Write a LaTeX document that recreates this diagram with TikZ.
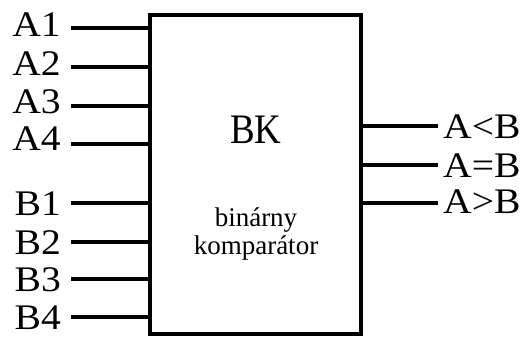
\documentclass[tikz,border=0pt]{standalone}
\usepackage{fontspec}
\setmainfont{Liberation Serif}
\newfontfamily\labfont{Liberation Serif}[FakeStretch=1.1]
\newfontfamily\bkfont{Liberation Serif}[FakeStretch=0.88]
\begin{document}
\begin{tikzpicture}[x=1pt,y=-1pt,
  wire/.style={line width=4pt},
  lab/.style={inner sep=0pt, font=\labfont\fontsize{36}{40}\selectfont},
  big/.style={inner sep=0pt, font=\bkfont\fontsize{42}{46}\selectfont},
  small/.style={inner sep=0pt, font=\fontsize{27}{30}\selectfont}]
\useasboundingbox (0,0) rectangle (528,338);
\node[draw, line width=4.5pt, minimum width=211pt, minimum height=319pt, inner sep=0pt] (box) at (255.5,174.5) {};
% inputs
\foreach \n/\ly/\by in {A1/28/36.5, A2/67/75, A3/106/113.5, A4/144/150.5, B1/203/215.5, B2/242/254, B3/279/291.5, B4/317/329.5}{
  \node[lab, anchor=base east] (l\n) at (61,\by) {\n};
  \coordinate (c\n) at (71,\ly);
  \draw[wire] (c\n) -- (c\n -| box.west);
}
% outputs
\coordinate (oLT) at (438,126);
\coordinate (oEQ) at (438,165);
\coordinate (oGT) at (438,203);
\draw[wire] (oLT -| box.east) -- (oLT);
\draw[wire] (oEQ -| box.east) -- (oEQ);
\draw[wire] (oGT -| box.east) -- (oGT);
\node[lab, anchor=base west] (tLT) at (443,138) {A<B};
\node[lab, anchor=base west] (tEQ) at (443,177) {A=B};
\node[lab, anchor=base west] (tGT) at (443,213) {A>B};
% inner text
\node[big, anchor=base] (bk) at (256,143) {BK};
\node[small, anchor=base] (t1) at (256,226) {binárny};
\node[small, anchor=base] (t2) at (256,254) {komparátor};
\end{tikzpicture}
\end{document}
